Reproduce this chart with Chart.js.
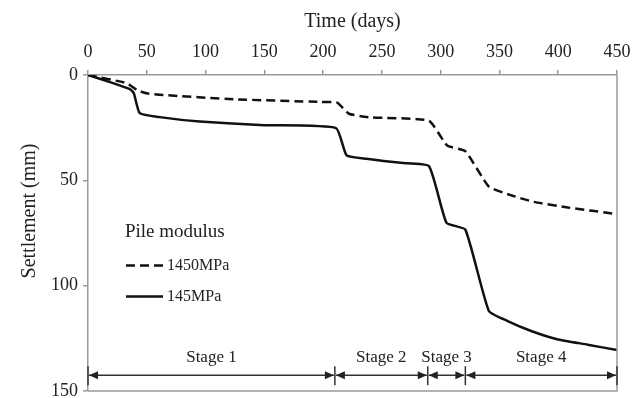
<!DOCTYPE html>
<html>
<head>
    <title>Settlement vs Time</title>
    <meta charset="UTF-8">
    <style>
        body {
            margin: 0;
            background: #ffffff;
        }
        #settlementChart {
            display: block;
        }
    </style>
</head>
<body>
    <canvas id="settlementChart" width="632" height="398"></canvas>

    <script src="https://cdn.jsdelivr.net/npm/chart.js"></script>

    <script>
        // Settlement records for the two pile moduli
        const days1450 = [0, 33, 41.5, 50, 64, 124, 198, 212, 222, 240, 290, 305.5, 321, 341, 359.5, 379, 408, 450];
        const settle1450 = [0, 3.9, 7.1, 8.7, 9.5, 11.5, 12.8, 13.1, 18.4, 20.1, 21.7, 33.5, 36.2, 53, 57, 60.2, 62.9, 66];

        const days145 = [0, 20, 36, 39, 44, 61, 95, 150, 211, 220, 237, 266, 290, 305, 321, 341, 357, 377, 399, 425, 450];
        const settle145 = [0, 3.6, 6.8, 8.7, 18.1, 20, 22.1, 23.8, 25.2, 38.2, 39.8, 41.7, 43.2, 70.2, 73.4, 112, 116.8, 121.5, 125.4, 128, 130.6];

        // Construction stages along the time axis
        const stageBounds = [0, 210, 289, 321, 450];
        const stageLabels = ['Stage 1', 'Stage 2', 'Stage 3', 'Stage 4'];
        const stageArrowLevel = 142.5;
        const stageTextLevel = 134;

        const xTicks = [0, 50, 100, 150, 200, 250, 300, 350, 400, 450];
        const yTicks = [0, 50, 100, 150];

        const legendTitle = 'Pile modulus';
        const seriesNames = ['1450MPa', '145MPa'];

        const FONT = '"Liberation Serif", "Times New Roman", serif';
        const AXIS_GREY = '#9a9a9a';
        const INK = '#111111';

        function toPoints(xs, ys) {
            return xs.map((x, i) => ({ x: x, y: ys[i] }));
        }

        function arrowHead(c, x, y, dir) {
            c.beginPath();
            c.moveTo(x, y);
            c.lineTo(x - dir * 9, y - 4);
            c.lineTo(x - dir * 9, y + 4);
            c.closePath();
            c.fill();
        }

        // Frame, stage arrows, legend and y title drawn over the plot
        const decorations = {
            id: 'decorations',
            afterDatasetsDraw(chart) {
                const c = chart.ctx;
                const area = chart.chartArea;
                const xs = chart.scales.x;
                const ys = chart.scales.y;
                c.save();

                // right and bottom frame lines
                c.strokeStyle = AXIS_GREY;
                c.lineWidth = 1.5;
                c.beginPath();
                c.moveTo(area.right, area.top);
                c.lineTo(area.right, area.bottom);
                c.lineTo(area.left, area.bottom);
                c.stroke();

                // stage dimension arrows
                const ay = ys.getPixelForValue(stageArrowLevel);
                const ty = ys.getPixelForValue(stageTextLevel);
                c.strokeStyle = '#333333';
                c.fillStyle = '#222222';
                c.lineWidth = 1.5;
                stageBounds.forEach(b => {
                    const px = xs.getPixelForValue(b);
                    c.beginPath();
                    c.moveTo(px, ay - 9);
                    c.lineTo(px, ay + 10);
                    c.stroke();
                });
                c.font = '17px ' + FONT;
                c.textAlign = 'center';
                c.textBaseline = 'middle';
                for (let i = 0; i < stageLabels.length; i++) {
                    const x0 = xs.getPixelForValue(stageBounds[i]) + 1;
                    const x1 = xs.getPixelForValue(stageBounds[i + 1]) - 1;
                    c.beginPath();
                    c.moveTo(x0, ay);
                    c.lineTo(x1, ay);
                    c.stroke();
                    arrowHead(c, x0, ay, -1);
                    arrowHead(c, x1, ay, 1);
                    c.fillStyle = '#222222';
                    c.fillText(stageLabels[i], (x0 + x1) / 2, ty);
                }

                // legend inside the plot
                const lx = area.left + 37;
                c.textAlign = 'left';
                c.fillStyle = '#222222';
                c.font = '19px ' + FONT;
                c.fillText(legendTitle, lx, 232);
                c.font = '16px ' + FONT;
                const rows = [265.5, 296.5];
                chart.data.datasets.forEach((ds, i) => {
                    c.strokeStyle = INK;
                    c.lineWidth = 2.5;
                    c.setLineDash(ds.borderDash || []);
                    c.beginPath();
                    c.moveTo(lx + 1, rows[i]);
                    c.lineTo(lx + 38, rows[i]);
                    c.stroke();
                    c.setLineDash([]);
                    c.fillText(seriesNames[i], lx + 42, rows[i]);
                });

                // vertical axis title
                c.translate(30, 211);
                c.rotate(-Math.PI / 2);
                c.textAlign = 'center';
                c.font = '20px ' + FONT;
                c.fillText('Settlement (mm)', 0, 0);
                c.restore();
            }
        };

        const ctx = document.getElementById('settlementChart').getContext('2d');

        new Chart(ctx, {
            type: 'line',
            data: {
                datasets: [
                    {
                        label: seriesNames[0],
                        data: toPoints(days1450, settle1450),
                        borderColor: INK,
                        borderWidth: 2.5,
                        borderDash: [9, 5],
                        pointRadius: 0,
                        tension: 0.15,
                        fill: false
                    },
                    {
                        label: seriesNames[1],
                        data: toPoints(days145, settle145),
                        borderColor: INK,
                        borderWidth: 2.5,
                        pointRadius: 0,
                        tension: 0.15,
                        fill: false
                    }
                ]
            },
            options: {
                responsive: false,
                animation: false,
                devicePixelRatio: 1,
                layout: {
                    padding: { left: 0, right: 15, top: 0, bottom: 7 }
                },
                plugins: {
                    legend: { display: false },
                    tooltip: { enabled: false }
                },
                scales: {
                    x: {
                        type: 'linear',
                        position: 'top',
                        min: 0,
                        max: 450,
                        afterBuildTicks: s => { s.ticks = xTicks.map(v => ({ value: v })); },
                        afterFit: s => {
                            s.height = 75;
                            s.paddingLeft = 0;
                            s.paddingRight = 0;
                        },
                        grid: {
                            drawOnChartArea: false,
                            drawTicks: true,
                            tickLength: 5,
                            color: AXIS_GREY,
                            lineWidth: 1.5
                        },
                        border: { color: AXIS_GREY, width: 1.5 },
                        ticks: {
                            color: '#222222',
                            padding: 7,
                            maxRotation: 0,
                            font: { family: FONT, size: 18 }
                        },
                        title: {
                            display: true,
                            text: 'Time (days)',
                            color: '#222222',
                            padding: { top: 10, bottom: 0 },
                            font: { family: FONT, size: 20 }
                        }
                    },
                    y: {
                        type: 'linear',
                        reverse: true,
                        min: 0,
                        max: 150,
                        afterBuildTicks: s => { s.ticks = yTicks.map(v => ({ value: v })); },
                        afterFit: s => {
                            s.width = 88;
                            s.paddingTop = 0;
                            s.paddingBottom = 0;
                        },
                        grid: {
                            drawOnChartArea: false,
                            drawTicks: true,
                            tickLength: 5,
                            color: AXIS_GREY,
                            lineWidth: 1.5
                        },
                        border: { color: AXIS_GREY, width: 1.5 },
                        ticks: {
                            color: '#222222',
                            padding: 5,
                            font: { family: FONT, size: 18 }
                        },
                        title: { display: false }
                    }
                }
            },
            plugins: [decorations]
        });
    </script>
</body>
</html>
